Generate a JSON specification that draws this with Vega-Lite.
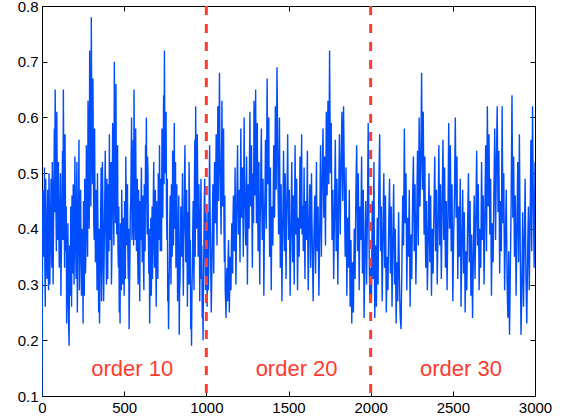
{
  "$schema": "https://vega.github.io/schema/vega-lite/v6.json",
  "width": 493,
  "height": 390,
  "autosize": {"type": "none"},
  "padding": {"left": 42, "top": 6, "right": 31, "bottom": 24},
  "background": "white",
  "config": {
    "view": {"stroke": "black", "strokeWidth": 1},
    "axis": {
      "domain": false,
      "grid": false,
      "title": null,
      "labelFont": "Liberation Sans",
      "labelFontSize": 15,
      "labelColor": "black",
      "tickColor": "black",
      "tickSize": -5,
      "labelFlush": false,
      "labelOverlap": false
    }
  },
  "datasets": {
    "series": [
      {"x":0,"y":0.10},{"x":5,"y":0.47},{"x":10,"y":0.35},{"x":15,"y":0.51},{"x":20,"y":0.26},{"x":25,"y":0.42},{"x":30,"y":0.31},{"x":35,"y":0.47},{"x":40,"y":0.29},{"x":45,"y":0.43},
      {"x":50,"y":0.36},{"x":55,"y":0.49},{"x":60,"y":0.33},{"x":65,"y":0.46},{"x":70,"y":0.40},{"x":75,"y":0.58},{"x":80,"y":0.65},{"x":85,"y":0.44},{"x":90,"y":0.61},{"x":95,"y":0.38},
      {"x":100,"y":0.52},{"x":105,"y":0.33},{"x":110,"y":0.45},{"x":115,"y":0.28},{"x":120,"y":0.41},{"x":125,"y":0.54},{"x":130,"y":0.65},{"x":135,"y":0.42},{"x":140,"y":0.57},{"x":145,"y":0.36},
      {"x":150,"y":0.23},{"x":155,"y":0.34},{"x":160,"y":0.27},{"x":165,"y":0.19},{"x":170,"y":0.31},{"x":175,"y":0.44},{"x":180,"y":0.26},{"x":185,"y":0.39},{"x":190,"y":0.48},{"x":195,"y":0.30},
      {"x":200,"y":0.53},{"x":205,"y":0.37},{"x":210,"y":0.45},{"x":215,"y":0.25},{"x":220,"y":0.41},{"x":225,"y":0.56},{"x":230,"y":0.35},{"x":235,"y":0.47},{"x":240,"y":0.28},{"x":245,"y":0.38},
      {"x":250,"y":0.23},{"x":255,"y":0.36},{"x":260,"y":0.49},{"x":265,"y":0.32},{"x":270,"y":0.55},{"x":275,"y":0.43},{"x":280,"y":0.63},{"x":285,"y":0.46},{"x":290,"y":0.72},{"x":295,"y":0.50},
      {"x":300,"y":0.78},{"x":305,"y":0.55},{"x":310,"y":0.67},{"x":315,"y":0.41},{"x":320,"y":0.58},{"x":325,"y":0.34},{"x":330,"y":0.47},{"x":335,"y":0.29},{"x":340,"y":0.42},{"x":345,"y":0.25},
      {"x":350,"y":0.23},{"x":355,"y":0.37},{"x":360,"y":0.51},{"x":365,"y":0.33},{"x":370,"y":0.46},{"x":375,"y":0.27},{"x":380,"y":0.40},{"x":385,"y":0.54},{"x":390,"y":0.36},{"x":395,"y":0.49},
      {"x":400,"y":0.31},{"x":405,"y":0.44},{"x":410,"y":0.57},{"x":415,"y":0.38},{"x":420,"y":0.52},{"x":425,"y":0.35},{"x":430,"y":0.59},{"x":435,"y":0.44},{"x":440,"y":0.70},{"x":445,"y":0.48},
      {"x":450,"y":0.66},{"x":455,"y":0.39},{"x":460,"y":0.55},{"x":465,"y":0.33},{"x":470,"y":0.25},{"x":475,"y":0.23},{"x":480,"y":0.36},{"x":485,"y":0.47},{"x":490,"y":0.30},{"x":495,"y":0.42},
      {"x":500,"y":0.28},{"x":505,"y":0.39},{"x":510,"y":0.53},{"x":515,"y":0.37},{"x":520,"y":0.48},{"x":525,"y":0.31},{"x":530,"y":0.22},{"x":535,"y":0.35},{"x":540,"y":0.45},{"x":545,"y":0.60},
      {"x":550,"y":0.41},{"x":555,"y":0.56},{"x":560,"y":0.65},{"x":565,"y":0.44},{"x":570,"y":0.58},{"x":575,"y":0.36},{"x":580,"y":0.49},{"x":585,"y":0.30},{"x":590,"y":0.43},{"x":595,"y":0.27},
      {"x":600,"y":0.38},{"x":605,"y":0.51},{"x":610,"y":0.34},{"x":615,"y":0.46},{"x":620,"y":0.29},{"x":625,"y":0.41},{"x":630,"y":0.55},{"x":635,"y":0.60},{"x":640,"y":0.39},{"x":645,"y":0.50},
      {"x":650,"y":0.32},{"x":655,"y":0.23},{"x":660,"y":0.35},{"x":665,"y":0.28},{"x":670,"y":0.44},{"x":675,"y":0.37},{"x":680,"y":0.52},{"x":685,"y":0.33},{"x":690,"y":0.47},{"x":695,"y":0.26},
      {"x":700,"y":0.40},{"x":705,"y":0.31},{"x":710,"y":0.45},{"x":715,"y":0.55},{"x":720,"y":0.36},{"x":725,"y":0.49},{"x":730,"y":0.58},{"x":735,"y":0.42},{"x":740,"y":0.64},{"x":745,"y":0.72},
      {"x":750,"y":0.50},{"x":755,"y":0.61},{"x":760,"y":0.38},{"x":765,"y":0.27},{"x":770,"y":0.22},{"x":775,"y":0.34},{"x":780,"y":0.46},{"x":785,"y":0.30},{"x":790,"y":0.42},{"x":795,"y":0.54},
      {"x":800,"y":0.37},{"x":805,"y":0.59},{"x":810,"y":0.46},{"x":815,"y":0.33},{"x":820,"y":0.48},{"x":825,"y":0.27},{"x":830,"y":0.39},{"x":835,"y":0.21},{"x":840,"y":0.31},{"x":845,"y":0.44},
      {"x":850,"y":0.35},{"x":855,"y":0.50},{"x":860,"y":0.28},{"x":865,"y":0.41},{"x":870,"y":0.55},{"x":875,"y":0.34},{"x":880,"y":0.47},{"x":885,"y":0.26},{"x":890,"y":0.38},{"x":895,"y":0.52},
      {"x":900,"y":0.30},{"x":905,"y":0.22},{"x":910,"y":0.19},{"x":915,"y":0.33},{"x":920,"y":0.45},{"x":925,"y":0.29},{"x":930,"y":0.56},{"x":935,"y":0.62},{"x":940,"y":0.40},{"x":945,"y":0.57},
      {"x":950,"y":0.35},{"x":955,"y":0.48},{"x":960,"y":0.27},{"x":965,"y":0.43},{"x":970,"y":0.31},{"x":975,"y":0.24},{"x":980,"y":0.20},{"x":985,"y":0.36},{"x":990,"y":0.49},{"x":995,"y":0.29},
      {"x":1000,"y":0.40},{"x":1005,"y":0.26},{"x":1010,"y":0.43},{"x":1015,"y":0.33},{"x":1020,"y":0.55},{"x":1025,"y":0.38},{"x":1030,"y":0.25},{"x":1035,"y":0.36},{"x":1040,"y":0.48},{"x":1045,"y":0.32},
      {"x":1050,"y":0.52},{"x":1055,"y":0.41},{"x":1060,"y":0.57},{"x":1065,"y":0.37},{"x":1070,"y":0.62},{"x":1075,"y":0.45},{"x":1080,"y":0.68},{"x":1085,"y":0.50},{"x":1090,"y":0.39},{"x":1095,"y":0.63},
      {"x":1100,"y":0.44},{"x":1105,"y":0.58},{"x":1110,"y":0.34},{"x":1115,"y":0.29},{"x":1120,"y":0.24},{"x":1125,"y":0.33},{"x":1130,"y":0.27},{"x":1135,"y":0.38},{"x":1140,"y":0.25},{"x":1145,"y":0.35},
      {"x":1150,"y":0.29},{"x":1155,"y":0.41},{"x":1160,"y":0.32},{"x":1165,"y":0.46},{"x":1170,"y":0.36},{"x":1175,"y":0.51},{"x":1180,"y":0.30},{"x":1185,"y":0.44},{"x":1190,"y":0.55},{"x":1195,"y":0.39},
      {"x":1200,"y":0.47},{"x":1205,"y":0.34},{"x":1210,"y":0.58},{"x":1215,"y":0.42},{"x":1220,"y":0.51},{"x":1225,"y":0.35},{"x":1230,"y":0.60},{"x":1235,"y":0.45},{"x":1240,"y":0.37},{"x":1245,"y":0.53},
      {"x":1250,"y":0.30},{"x":1255,"y":0.48},{"x":1260,"y":0.40},{"x":1265,"y":0.61},{"x":1270,"y":0.44},{"x":1275,"y":0.55},{"x":1280,"y":0.33},{"x":1285,"y":0.50},{"x":1290,"y":0.63},{"x":1295,"y":0.46},
      {"x":1300,"y":0.65},{"x":1305,"y":0.41},{"x":1310,"y":0.59},{"x":1315,"y":0.36},{"x":1320,"y":0.52},{"x":1325,"y":0.30},{"x":1330,"y":0.45},{"x":1335,"y":0.58},{"x":1340,"y":0.38},{"x":1345,"y":0.49},
      {"x":1350,"y":0.28},{"x":1355,"y":0.43},{"x":1360,"y":0.56},{"x":1365,"y":0.40},{"x":1370,"y":0.67},{"x":1375,"y":0.48},{"x":1380,"y":0.60},{"x":1385,"y":0.35},{"x":1390,"y":0.51},{"x":1395,"y":0.29},
      {"x":1400,"y":0.44},{"x":1405,"y":0.37},{"x":1410,"y":0.55},{"x":1415,"y":0.42},{"x":1420,"y":0.62},{"x":1425,"y":0.47},{"x":1430,"y":0.69},{"x":1435,"y":0.52},{"x":1440,"y":0.39},{"x":1445,"y":0.60},
      {"x":1450,"y":0.33},{"x":1455,"y":0.48},{"x":1460,"y":0.27},{"x":1465,"y":0.41},{"x":1470,"y":0.54},{"x":1475,"y":0.36},{"x":1480,"y":0.50},{"x":1485,"y":0.31},{"x":1490,"y":0.45},{"x":1495,"y":0.57},
      {"x":1500,"y":0.38},{"x":1505,"y":0.47},{"x":1510,"y":0.28},{"x":1515,"y":0.40},{"x":1520,"y":0.52},{"x":1525,"y":0.34},{"x":1530,"y":0.46},{"x":1535,"y":0.30},{"x":1540,"y":0.55},{"x":1545,"y":0.39},
      {"x":1550,"y":0.49},{"x":1555,"y":0.29},{"x":1560,"y":0.42},{"x":1565,"y":0.35},{"x":1570,"y":0.53},{"x":1575,"y":0.40},{"x":1580,"y":0.57},{"x":1585,"y":0.44},{"x":1590,"y":0.36},{"x":1595,"y":0.51},
      {"x":1600,"y":0.31},{"x":1605,"y":0.45},{"x":1610,"y":0.38},{"x":1615,"y":0.54},{"x":1620,"y":0.29},{"x":1625,"y":0.41},{"x":1630,"y":0.48},{"x":1635,"y":0.33},{"x":1640,"y":0.50},{"x":1645,"y":0.37},
      {"x":1650,"y":0.27},{"x":1655,"y":0.39},{"x":1660,"y":0.46},{"x":1665,"y":0.32},{"x":1670,"y":0.52},{"x":1675,"y":0.36},{"x":1680,"y":0.44},{"x":1685,"y":0.28},{"x":1690,"y":0.40},{"x":1695,"y":0.55},
      {"x":1700,"y":0.35},{"x":1705,"y":0.49},{"x":1710,"y":0.58},{"x":1715,"y":0.42},{"x":1720,"y":0.53},{"x":1725,"y":0.37},{"x":1730,"y":0.61},{"x":1735,"y":0.46},{"x":1740,"y":0.63},{"x":1745,"y":0.48},
      {"x":1750,"y":0.72},{"x":1755,"y":0.50},{"x":1760,"y":0.59},{"x":1765,"y":0.38},{"x":1770,"y":0.47},{"x":1775,"y":0.31},{"x":1780,"y":0.43},{"x":1785,"y":0.56},{"x":1790,"y":0.36},{"x":1795,"y":0.49},
      {"x":1800,"y":0.30},{"x":1805,"y":0.44},{"x":1810,"y":0.57},{"x":1815,"y":0.39},{"x":1820,"y":0.52},{"x":1825,"y":0.61},{"x":1830,"y":0.45},{"x":1835,"y":0.62},{"x":1840,"y":0.48},{"x":1845,"y":0.35},
      {"x":1850,"y":0.51},{"x":1855,"y":0.28},{"x":1860,"y":0.42},{"x":1865,"y":0.33},{"x":1870,"y":0.47},{"x":1875,"y":0.26},{"x":1880,"y":0.38},{"x":1885,"y":0.23},{"x":1890,"y":0.34},{"x":1895,"y":0.25},
      {"x":1900,"y":0.40},{"x":1905,"y":0.31},{"x":1910,"y":0.46},{"x":1915,"y":0.55},{"x":1920,"y":0.36},{"x":1925,"y":0.50},{"x":1930,"y":0.29},{"x":1935,"y":0.44},{"x":1940,"y":0.38},{"x":1945,"y":0.53},
      {"x":1950,"y":0.32},{"x":1955,"y":0.47},{"x":1960,"y":0.24},{"x":1965,"y":0.36},{"x":1970,"y":0.45},{"x":1975,"y":0.30},{"x":1980,"y":0.42},{"x":1985,"y":0.59},{"x":1990,"y":0.38},{"x":1995,"y":0.27},
      {"x":2000,"y":0.33},{"x":2005,"y":0.28},{"x":2010,"y":0.45},{"x":2015,"y":0.31},{"x":2020,"y":0.52},{"x":2025,"y":0.24},{"x":2030,"y":0.37},{"x":2035,"y":0.26},{"x":2040,"y":0.42},{"x":2045,"y":0.30},
      {"x":2050,"y":0.48},{"x":2055,"y":0.57},{"x":2060,"y":0.36},{"x":2065,"y":0.44},{"x":2070,"y":0.27},{"x":2075,"y":0.39},{"x":2080,"y":0.50},{"x":2085,"y":0.33},{"x":2090,"y":0.46},{"x":2095,"y":0.25},
      {"x":2100,"y":0.35},{"x":2105,"y":0.29},{"x":2110,"y":0.41},{"x":2115,"y":0.49},{"x":2120,"y":0.32},{"x":2125,"y":0.44},{"x":2130,"y":0.26},{"x":2135,"y":0.38},{"x":2140,"y":0.48},{"x":2145,"y":0.30},
      {"x":2150,"y":0.40},{"x":2155,"y":0.23},{"x":2160,"y":0.34},{"x":2165,"y":0.27},{"x":2170,"y":0.43},{"x":2175,"y":0.31},{"x":2180,"y":0.24},{"x":2185,"y":0.22},{"x":2190,"y":0.33},{"x":2195,"y":0.46},
      {"x":2200,"y":0.37},{"x":2205,"y":0.58},{"x":2210,"y":0.41},{"x":2215,"y":0.50},{"x":2220,"y":0.29},{"x":2225,"y":0.42},{"x":2230,"y":0.35},{"x":2235,"y":0.47},{"x":2240,"y":0.26},{"x":2245,"y":0.39},
      {"x":2250,"y":0.31},{"x":2255,"y":0.45},{"x":2260,"y":0.53},{"x":2265,"y":0.36},{"x":2270,"y":0.48},{"x":2275,"y":0.30},{"x":2280,"y":0.41},{"x":2285,"y":0.54},{"x":2290,"y":0.37},{"x":2295,"y":0.60},
      {"x":2300,"y":0.44},{"x":2305,"y":0.52},{"x":2310,"y":0.68},{"x":2315,"y":0.47},{"x":2320,"y":0.61},{"x":2325,"y":0.39},{"x":2330,"y":0.53},{"x":2335,"y":0.33},{"x":2340,"y":0.45},{"x":2345,"y":0.29},
      {"x":2350,"y":0.38},{"x":2355,"y":0.50},{"x":2360,"y":0.34},{"x":2365,"y":0.46},{"x":2370,"y":0.28},{"x":2375,"y":0.40},{"x":2380,"y":0.32},{"x":2385,"y":0.43},{"x":2390,"y":0.53},{"x":2395,"y":0.36},
      {"x":2400,"y":0.47},{"x":2405,"y":0.30},{"x":2410,"y":0.41},{"x":2415,"y":0.55},{"x":2420,"y":0.37},{"x":2425,"y":0.48},{"x":2430,"y":0.31},{"x":2435,"y":0.44},{"x":2440,"y":0.56},{"x":2445,"y":0.38},
      {"x":2450,"y":0.51},{"x":2455,"y":0.33},{"x":2460,"y":0.45},{"x":2465,"y":0.29},{"x":2470,"y":0.42},{"x":2475,"y":0.59},{"x":2480,"y":0.40},{"x":2485,"y":0.55},{"x":2490,"y":0.36},{"x":2495,"y":0.48},
      {"x":2500,"y":0.27},{"x":2505,"y":0.39},{"x":2510,"y":0.46},{"x":2515,"y":0.60},{"x":2520,"y":0.42},{"x":2525,"y":0.53},{"x":2530,"y":0.31},{"x":2535,"y":0.44},{"x":2540,"y":0.35},{"x":2545,"y":0.49},
      {"x":2550,"y":0.26},{"x":2555,"y":0.38},{"x":2560,"y":0.47},{"x":2565,"y":0.32},{"x":2570,"y":0.43},{"x":2575,"y":0.25},{"x":2580,"y":0.36},{"x":2585,"y":0.29},{"x":2590,"y":0.41},{"x":2595,"y":0.50},
      {"x":2600,"y":0.34},{"x":2605,"y":0.45},{"x":2610,"y":0.28},{"x":2615,"y":0.39},{"x":2620,"y":0.24},{"x":2625,"y":0.35},{"x":2630,"y":0.46},{"x":2635,"y":0.31},{"x":2640,"y":0.42},{"x":2645,"y":0.54},
      {"x":2650,"y":0.37},{"x":2655,"y":0.48},{"x":2660,"y":0.29},{"x":2665,"y":0.40},{"x":2670,"y":0.33},{"x":2675,"y":0.52},{"x":2680,"y":0.38},{"x":2685,"y":0.46},{"x":2690,"y":0.30},{"x":2695,"y":0.43},
      {"x":2700,"y":0.55},{"x":2705,"y":0.36},{"x":2710,"y":0.62},{"x":2715,"y":0.44},{"x":2720,"y":0.57},{"x":2725,"y":0.39},{"x":2730,"y":0.49},{"x":2735,"y":0.28},{"x":2740,"y":0.41},{"x":2745,"y":0.34},
      {"x":2750,"y":0.47},{"x":2755,"y":0.58},{"x":2760,"y":0.38},{"x":2765,"y":0.52},{"x":2770,"y":0.62},{"x":2775,"y":0.43},{"x":2780,"y":0.54},{"x":2785,"y":0.32},{"x":2790,"y":0.45},{"x":2795,"y":0.36},
      {"x":2800,"y":0.62},{"x":2805,"y":0.41},{"x":2810,"y":0.50},{"x":2815,"y":0.29},{"x":2820,"y":0.39},{"x":2825,"y":0.47},{"x":2830,"y":0.31},{"x":2835,"y":0.24},{"x":2840,"y":0.36},{"x":2845,"y":0.21},
      {"x":2850,"y":0.33},{"x":2855,"y":0.45},{"x":2860,"y":0.64},{"x":2865,"y":0.42},{"x":2870,"y":0.53},{"x":2875,"y":0.35},{"x":2880,"y":0.46},{"x":2885,"y":0.28},{"x":2890,"y":0.40},{"x":2895,"y":0.52},
      {"x":2900,"y":0.34},{"x":2905,"y":0.57},{"x":2910,"y":0.37},{"x":2915,"y":0.21},{"x":2920,"y":0.30},{"x":2925,"y":0.43},{"x":2930,"y":0.26},{"x":2935,"y":0.38},{"x":2940,"y":0.49},{"x":2945,"y":0.31},
      {"x":2950,"y":0.23},{"x":2955,"y":0.35},{"x":2960,"y":0.44},{"x":2965,"y":0.29},{"x":2970,"y":0.41},{"x":2975,"y":0.56},{"x":2980,"y":0.36},{"x":2985,"y":0.62},{"x":2990,"y":0.45},{"x":2995,"y":0.33},
      {"x":3000,"y":0.52},
      {"x":2.5,"y":0.32},{"x":7.5,"y":0.44},{"x":12.5,"y":0.38},{"x":17.5,"y":0.33},{"x":22.5,"y":0.49},{"x":27.5,"y":0.36},{"x":32.5,"y":0.40},{"x":37.5,"y":0.35},{"x":42.5,"y":0.50},{"x":47.5,"y":0.30},
      {"x":52.5,"y":0.42},{"x":57.5,"y":0.38},{"x":62.5,"y":0.52},{"x":67.5,"y":0.30},{"x":72.5,"y":0.47},{"x":77.5,"y":0.43},{"x":82.5,"y":0.55},{"x":87.5,"y":0.36},{"x":92.5,"y":0.49},{"x":97.5,"y":0.45},
      {"x":102.5,"y":0.40},{"x":107.5,"y":0.37},{"x":112.5,"y":0.50},{"x":117.5,"y":0.35},{"x":122.5,"y":0.47},{"x":127.5,"y":0.38},{"x":132.5,"y":0.51},{"x":137.5,"y":0.33},{"x":142.5,"y":0.46},{"x":147.5,"y":0.44},
      {"x":152.5,"y":0.29},{"x":157.5,"y":0.41},{"x":162.5,"y":0.22},{"x":167.5,"y":0.37},{"x":172.5,"y":0.28},{"x":177.5,"y":0.35},{"x":182.5,"y":0.46},{"x":187.5,"y":0.32},{"x":192.5,"y":0.42},{"x":197.5,"y":0.38},
      {"x":202.5,"y":0.43},{"x":207.5,"y":0.31},{"x":212.5,"y":0.52},{"x":217.5,"y":0.34},{"x":222.5,"y":0.46},{"x":227.5,"y":0.29},{"x":232.5,"y":0.44},{"x":237.5,"y":0.37},{"x":242.5,"y":0.40},{"x":247.5,"y":0.33},
      {"x":252.5,"y":0.45},{"x":257.5,"y":0.28},{"x":262.5,"y":0.41},{"x":267.5,"y":0.37},{"x":272.5,"y":0.48},{"x":277.5,"y":0.35},{"x":282.5,"y":0.53},{"x":287.5,"y":0.40},{"x":292.5,"y":0.58},{"x":297.5,"y":0.44},
      {"x":302.5,"y":0.62},{"x":307.5,"y":0.48},{"x":312.5,"y":0.52},{"x":317.5,"y":0.38},{"x":322.5,"y":0.45},{"x":327.5,"y":0.41},{"x":332.5,"y":0.37},{"x":337.5,"y":0.50},{"x":342.5,"y":0.33},{"x":347.5,"y":0.40},
      {"x":352.5,"y":0.30},{"x":357.5,"y":0.44},{"x":362.5,"y":0.27},{"x":367.5,"y":0.52},{"x":372.5,"y":0.38},{"x":377.5,"y":0.33},{"x":382.5,"y":0.47},{"x":387.5,"y":0.43},{"x":392.5,"y":0.30},{"x":397.5,"y":0.39},
      {"x":402.5,"y":0.48},{"x":407.5,"y":0.36},{"x":412.5,"y":0.43},{"x":417.5,"y":0.49},{"x":422.5,"y":0.30},{"x":427.5,"y":0.45},{"x":432.5,"y":0.52},{"x":437.5,"y":0.37},{"x":442.5,"y":0.55},{"x":447.5,"y":0.41},
      {"x":452.5,"y":0.47},{"x":457.5,"y":0.50},{"x":462.5,"y":0.36},{"x":467.5,"y":0.44},{"x":472.5,"y":0.30},{"x":477.5,"y":0.41},{"x":482.5,"y":0.29},{"x":487.5,"y":0.40},{"x":492.5,"y":0.37},{"x":497.5,"y":0.33},
      {"x":502.5,"y":0.45},{"x":507.5,"y":0.31},{"x":512.5,"y":0.44},{"x":517.5,"y":0.42},{"x":522.5,"y":0.36},{"x":527.5,"y":0.40},{"x":532.5,"y":0.29},{"x":537.5,"y":0.43},{"x":542.5,"y":0.52},{"x":547.5,"y":0.38},
      {"x":552.5,"y":0.50},{"x":557.5,"y":0.37},{"x":562.5,"y":0.52},{"x":567.5,"y":0.38},{"x":572.5,"y":0.46},{"x":577.5,"y":0.42},{"x":582.5,"y":0.35},{"x":587.5,"y":0.47},{"x":592.5,"y":0.34},{"x":597.5,"y":0.45},
      {"x":602.5,"y":0.44},{"x":607.5,"y":0.40},{"x":612.5,"y":0.39},{"x":617.5,"y":0.33},{"x":622.5,"y":0.48},{"x":627.5,"y":0.36},{"x":632.5,"y":0.47},{"x":637.5,"y":0.45},{"x":642.5,"y":0.53},{"x":647.5,"y":0.38},
      {"x":652.5,"y":0.40},{"x":657.5,"y":0.30},{"x":662.5,"y":0.42},{"x":667.5,"y":0.34},{"x":672.5,"y":0.31},{"x":677.5,"y":0.46},{"x":682.5,"y":0.40},{"x":687.5,"y":0.38},{"x":692.5,"y":0.34},{"x":697.5,"y":0.45},
      {"x":702.5,"y":0.36},{"x":707.5,"y":0.50},{"x":712.5,"y":0.38},{"x":717.5,"y":0.44},{"x":722.5,"y":0.43},{"x":727.5,"y":0.36},{"x":732.5,"y":0.47},{"x":737.5,"y":0.52},{"x":742.5,"y":0.48},{"x":747.5,"y":0.56},
      {"x":752.5,"y":0.59},{"x":757.5,"y":0.44},{"x":762.5,"y":0.49},{"x":767.5,"y":0.32},{"x":772.5,"y":0.29},{"x":777.5,"y":0.41},{"x":782.5,"y":0.37},{"x":787.5,"y":0.48},{"x":792.5,"y":0.35},{"x":797.5,"y":0.44},
      {"x":802.5,"y":0.47},{"x":807.5,"y":0.40},{"x":812.5,"y":0.52},{"x":817.5,"y":0.38},{"x":822.5,"y":0.42},{"x":827.5,"y":0.34},{"x":832.5,"y":0.46},{"x":837.5,"y":0.29},{"x":842.5,"y":0.38},{"x":847.5,"y":0.40},
      {"x":852.5,"y":0.43},{"x":857.5,"y":0.36},{"x":862.5,"y":0.38},{"x":867.5,"y":0.50},{"x":872.5,"y":0.41},{"x":877.5,"y":0.44},{"x":882.5,"y":0.36},{"x":887.5,"y":0.43},{"x":892.5,"y":0.30},{"x":897.5,"y":0.45},
      {"x":902.5,"y":0.38},{"x":907.5,"y":0.27},{"x":912.5,"y":0.29},{"x":917.5,"y":0.40},{"x":922.5,"y":0.37},{"x":927.5,"y":0.48},{"x":932.5,"y":0.35},{"x":937.5,"y":0.50},{"x":942.5,"y":0.45},{"x":947.5,"y":0.48},
      {"x":952.5,"y":0.42},{"x":957.5,"y":0.39},{"x":962.5,"y":0.36},{"x":967.5,"y":0.49},{"x":972.5,"y":0.37},{"x":977.5,"y":0.29},{"x":982.5,"y":0.31},{"x":987.5,"y":0.45},{"x":992.5,"y":0.38},{"x":997.5,"y":0.43},
      {"x":1002.5,"y":0.35},{"x":1007.5,"y":0.38},{"x":1012.5,"y":0.29},{"x":1017.5,"y":0.47},{"x":1022.5,"y":0.44},{"x":1027.5,"y":0.31},{"x":1032.5,"y":0.30},{"x":1037.5,"y":0.43},{"x":1042.5,"y":0.39},{"x":1047.5,"y":0.45},
      {"x":1052.5,"y":0.46},{"x":1057.5,"y":0.49},{"x":1062.5,"y":0.43},{"x":1067.5,"y":0.51},{"x":1072.5,"y":0.48},{"x":1077.5,"y":0.57},{"x":1082.5,"y":0.55},{"x":1087.5,"y":0.44},{"x":1092.5,"y":0.52},{"x":1097.5,"y":0.50},
      {"x":1102.5,"y":0.52},{"x":1107.5,"y":0.40},{"x":1112.5,"y":0.46},{"x":1117.5,"y":0.27},{"x":1122.5,"y":0.30},{"x":1127.5,"y":0.29},{"x":1132.5,"y":0.35},{"x":1137.5,"y":0.31},{"x":1142.5,"y":0.30},{"x":1147.5,"y":0.33},
      {"x":1152.5,"y":0.37},{"x":1157.5,"y":0.35},{"x":1162.5,"y":0.42},{"x":1167.5,"y":0.39},{"x":1172.5,"y":0.42},{"x":1177.5,"y":0.40},{"x":1182.5,"y":0.37},{"x":1187.5,"y":0.49},{"x":1192.5,"y":0.46},{"x":1197.5,"y":0.43},
      {"x":1202.5,"y":0.40},{"x":1207.5,"y":0.48},{"x":1212.5,"y":0.47},{"x":1217.5,"y":0.49},{"x":1222.5,"y":0.43},{"x":1227.5,"y":0.47},{"x":1232.5,"y":0.50},{"x":1237.5,"y":0.40},{"x":1242.5,"y":0.46},{"x":1247.5,"y":0.42},
      {"x":1252.5,"y":0.41},{"x":1257.5,"y":0.43},{"x":1262.5,"y":0.52},{"x":1267.5,"y":0.50},{"x":1272.5,"y":0.48},{"x":1277.5,"y":0.42},{"x":1282.5,"y":0.45},{"x":1287.5,"y":0.41},{"x":1292.5,"y":0.56},{"x":1297.5,"y":0.53},
      {"x":1302.5,"y":0.50},{"x":1307.5,"y":0.52},{"x":1312.5,"y":0.45},{"x":1317.5,"y":0.44},{"x":1322.5,"y":0.38},{"x":1327.5,"y":0.41},{"x":1332.5,"y":0.53},{"x":1337.5,"y":0.46},{"x":1342.5,"y":0.43},{"x":1347.5,"y":0.40},
      {"x":1352.5,"y":0.37},{"x":1357.5,"y":0.48},{"x":1362.5,"y":0.47},{"x":1367.5,"y":0.55},{"x":1372.5,"y":0.56},{"x":1377.5,"y":0.53},{"x":1382.5,"y":0.45},{"x":1387.5,"y":0.44},{"x":1392.5,"y":0.38},{"x":1397.5,"y":0.40},
      {"x":1402.5,"y":0.42},{"x":1407.5,"y":0.47},{"x":1412.5,"y":0.46},{"x":1417.5,"y":0.50},{"x":1422.5,"y":0.51},{"x":1427.5,"y":0.58},{"x":1432.5,"y":0.61},{"x":1437.5,"y":0.45},{"x":1442.5,"y":0.49},{"x":1447.5,"y":0.46},
      {"x":1452.5,"y":0.40},{"x":1457.5,"y":0.36},{"x":1462.5,"y":0.35},{"x":1467.5,"y":0.47},{"x":1472.5,"y":0.43},{"x":1477.5,"y":0.44},{"x":1482.5,"y":0.39},{"x":1487.5,"y":0.40},{"x":1492.5,"y":0.50},{"x":1497.5,"y":0.46},
      {"x":1502.5,"y":0.43},{"x":1507.5,"y":0.36},{"x":1512.5,"y":0.35},{"x":1517.5,"y":0.46},{"x":1522.5,"y":0.42},{"x":1527.5,"y":0.40},{"x":1532.5,"y":0.37},{"x":1537.5,"y":0.44},{"x":1542.5,"y":0.46},{"x":1547.5,"y":0.43},
      {"x":1552.5,"y":0.38},{"x":1557.5,"y":0.36},{"x":1562.5,"y":0.39},{"x":1567.5,"y":0.45},{"x":1572.5,"y":0.47},{"x":1577.5,"y":0.50},{"x":1582.5,"y":0.39},{"x":1587.5,"y":0.44},{"x":1592.5,"y":0.42},{"x":1597.5,"y":0.40},
      {"x":1602.5,"y":0.39},{"x":1607.5,"y":0.42},{"x":1612.5,"y":0.47},{"x":1617.5,"y":0.37},{"x":1622.5,"y":0.34},{"x":1627.5,"y":0.45},{"x":1632.5,"y":0.41},{"x":1637.5,"y":0.43},{"x":1642.5,"y":0.42},{"x":1647.5,"y":0.32},
      {"x":1652.5,"y":0.34},{"x":1657.5,"y":0.43},{"x":1662.5,"y":0.38},{"x":1667.5,"y":0.44},{"x":1672.5,"y":0.42},{"x":1677.5,"y":0.41},{"x":1682.5,"y":0.35},{"x":1687.5,"y":0.34},{"x":1692.5,"y":0.48},{"x":1697.5,"y":0.43},
      {"x":1702.5,"y":0.43},{"x":1707.5,"y":0.54},{"x":1712.5,"y":0.49},{"x":1717.5,"y":0.48},{"x":1722.5,"y":0.44},{"x":1727.5,"y":0.50},{"x":1732.5,"y":0.55},{"x":1737.5,"y":0.53},{"x":1742.5,"y":0.56},{"x":1747.5,"y":0.59},
      {"x":1752.5,"y":0.61},{"x":1757.5,"y":0.55},{"x":1762.5,"y":0.48},{"x":1767.5,"y":0.42},{"x":1772.5,"y":0.39},{"x":1777.5,"y":0.37},{"x":1782.5,"y":0.50},{"x":1787.5,"y":0.45},{"x":1792.5,"y":0.42},{"x":1797.5,"y":0.40},
      {"x":1802.5,"y":0.37},{"x":1807.5,"y":0.51},{"x":1812.5,"y":0.47},{"x":1817.5,"y":0.46},{"x":1822.5,"y":0.56},{"x":1827.5,"y":0.52},{"x":1832.5,"y":0.54},{"x":1837.5,"y":0.55},{"x":1842.5,"y":0.41},{"x":1847.5,"y":0.43},
      {"x":1852.5,"y":0.39},{"x":1857.5,"y":0.35},{"x":1862.5,"y":0.38},{"x":1867.5,"y":0.40},{"x":1872.5,"y":0.36},{"x":1877.5,"y":0.32},{"x":1882.5,"y":0.30},{"x":1887.5,"y":0.29},{"x":1892.5,"y":0.30},{"x":1897.5,"y":0.33},
      {"x":1902.5,"y":0.36},{"x":1907.5,"y":0.39},{"x":1912.5,"y":0.51},{"x":1917.5,"y":0.45},{"x":1922.5,"y":0.43},{"x":1927.5,"y":0.39},{"x":1932.5,"y":0.37},{"x":1937.5,"y":0.41},{"x":1942.5,"y":0.46},{"x":1947.5,"y":0.42},
      {"x":1952.5,"y":0.40},{"x":1957.5,"y":0.35},{"x":1962.5,"y":0.30},{"x":1967.5,"y":0.41},{"x":1972.5,"y":0.38},{"x":1977.5,"y":0.36},{"x":1982.5,"y":0.50},{"x":1987.5,"y":0.48},{"x":1992.5,"y":0.32},{"x":1997.5,"y":0.30},
      {"x":2002.5,"y":0.30},{"x":2007.5,"y":0.37},{"x":2012.5,"y":0.38},{"x":2017.5,"y":0.42},{"x":2022.5,"y":0.36},{"x":2027.5,"y":0.31},{"x":2032.5,"y":0.32},{"x":2037.5,"y":0.35},{"x":2042.5,"y":0.36},{"x":2047.5,"y":0.39},
      {"x":2052.5,"y":0.53},{"x":2057.5,"y":0.46},{"x":2062.5,"y":0.40},{"x":2067.5,"y":0.35},{"x":2072.5,"y":0.33},{"x":2077.5,"y":0.45},{"x":2082.5,"y":0.41},{"x":2087.5,"y":0.40},{"x":2092.5,"y":0.35},{"x":2097.5,"y":0.30},
      {"x":2102.5,"y":0.32},{"x":2107.5,"y":0.35},{"x":2112.5,"y":0.45},{"x":2117.5,"y":0.40},{"x":2122.5,"y":0.38},{"x":2127.5,"y":0.35},{"x":2132.5,"y":0.32},{"x":2137.5,"y":0.43},{"x":2142.5,"y":0.39},{"x":2147.5,"y":0.35},
      {"x":2152.5,"y":0.31},{"x":2157.5,"y":0.28},{"x":2162.5,"y":0.30},{"x":2167.5,"y":0.36},{"x":2172.5,"y":0.37},{"x":2177.5,"y":0.27},{"x":2182.5,"y":0.23},{"x":2187.5,"y":0.28},{"x":2192.5,"y":0.40},{"x":2197.5,"y":0.42},
      {"x":2202.5,"y":0.48},{"x":2207.5,"y":0.49},{"x":2212.5,"y":0.46},{"x":2217.5,"y":0.39},{"x":2222.5,"y":0.36},{"x":2227.5,"y":0.38},{"x":2232.5,"y":0.41},{"x":2237.5,"y":0.36},{"x":2242.5,"y":0.33},{"x":2247.5,"y":0.35},
      {"x":2252.5,"y":0.38},{"x":2257.5,"y":0.49},{"x":2262.5,"y":0.44},{"x":2267.5,"y":0.42},{"x":2272.5,"y":0.39},{"x":2277.5,"y":0.35},{"x":2282.5,"y":0.48},{"x":2287.5,"y":0.45},{"x":2292.5,"y":0.49},{"x":2297.5,"y":0.52},
      {"x":2302.5,"y":0.48},{"x":2307.5,"y":0.60},{"x":2312.5,"y":0.57},{"x":2317.5,"y":0.54},{"x":2322.5,"y":0.50},{"x":2327.5,"y":0.43},{"x":2332.5,"y":0.39},{"x":2337.5,"y":0.39},{"x":2342.5,"y":0.37},{"x":2347.5,"y":0.33},
      {"x":2352.5,"y":0.44},{"x":2357.5,"y":0.42},{"x":2362.5,"y":0.40},{"x":2367.5,"y":0.37},{"x":2372.5,"y":0.34},{"x":2377.5,"y":0.36},{"x":2382.5,"y":0.38},{"x":2387.5,"y":0.48},{"x":2392.5,"y":0.45},{"x":2397.5,"y":0.42},
      {"x":2402.5,"y":0.38},{"x":2407.5,"y":0.35},{"x":2412.5,"y":0.48},{"x":2417.5,"y":0.46},{"x":2422.5,"y":0.42},{"x":2427.5,"y":0.39},{"x":2432.5,"y":0.38},{"x":2437.5,"y":0.50},{"x":2442.5,"y":0.47},{"x":2447.5,"y":0.44},
      {"x":2452.5,"y":0.42},{"x":2457.5,"y":0.39},{"x":2462.5,"y":0.37},{"x":2467.5,"y":0.36},{"x":2472.5,"y":0.50},{"x":2477.5,"y":0.49},{"x":2482.5,"y":0.48},{"x":2487.5,"y":0.45},{"x":2492.5,"y":0.42},{"x":2497.5,"y":0.37},
      {"x":2502.5,"y":0.33},{"x":2507.5,"y":0.42},{"x":2512.5,"y":0.53},{"x":2517.5,"y":0.51},{"x":2522.5,"y":0.48},{"x":2527.5,"y":0.42},{"x":2532.5,"y":0.37},{"x":2537.5,"y":0.39},{"x":2542.5,"y":0.42},{"x":2547.5,"y":0.37},
      {"x":2552.5,"y":0.32},{"x":2557.5,"y":0.43},{"x":2562.5,"y":0.39},{"x":2567.5,"y":0.38},{"x":2572.5,"y":0.34},{"x":2577.5,"y":0.31},{"x":2582.5,"y":0.33},{"x":2587.5,"y":0.35},{"x":2592.5,"y":0.45},{"x":2597.5,"y":0.42},
      {"x":2602.5,"y":0.40},{"x":2607.5,"y":0.36},{"x":2612.5,"y":0.33},{"x":2617.5,"y":0.31},{"x":2622.5,"y":0.30},{"x":2627.5,"y":0.40},{"x":2632.5,"y":0.38},{"x":2637.5,"y":0.36},{"x":2642.5,"y":0.48},{"x":2647.5,"y":0.45},
      {"x":2652.5,"y":0.42},{"x":2657.5,"y":0.38},{"x":2662.5,"y":0.34},{"x":2667.5,"y":0.36},{"x":2672.5,"y":0.43},{"x":2677.5,"y":0.45},{"x":2682.5,"y":0.42},{"x":2687.5,"y":0.38},{"x":2692.5,"y":0.36},{"x":2697.5,"y":0.49},
      {"x":2702.5,"y":0.45},{"x":2707.5,"y":0.49},{"x":2712.5,"y":0.53},{"x":2717.5,"y":0.50},{"x":2722.5,"y":0.48},{"x":2727.5,"y":0.44},{"x":2732.5,"y":0.38},{"x":2737.5,"y":0.35},{"x":2742.5,"y":0.37},{"x":2747.5,"y":0.40},
      {"x":2752.5,"y":0.52},{"x":2757.5,"y":0.48},{"x":2762.5,"y":0.45},{"x":2767.5,"y":0.57},{"x":2772.5,"y":0.52},{"x":2777.5,"y":0.48},{"x":2782.5,"y":0.43},{"x":2787.5,"y":0.38},{"x":2792.5,"y":0.41},{"x":2797.5,"y":0.49},
      {"x":2802.5,"y":0.51},{"x":2807.5,"y":0.45},{"x":2812.5,"y":0.39},{"x":2817.5,"y":0.34},{"x":2822.5,"y":0.43},{"x":2827.5,"y":0.39},{"x":2832.5,"y":0.27},{"x":2837.5,"y":0.30},{"x":2842.5,"y":0.28},{"x":2847.5,"y":0.27},
      {"x":2852.5,"y":0.39},{"x":2857.5,"y":0.55},{"x":2862.5,"y":0.53},{"x":2867.5,"y":0.47},{"x":2872.5,"y":0.44},{"x":2877.5,"y":0.40},{"x":2882.5,"y":0.37},{"x":2887.5,"y":0.34},{"x":2892.5,"y":0.46},{"x":2897.5,"y":0.43},
      {"x":2902.5,"y":0.46},{"x":2907.5,"y":0.47},{"x":2912.5,"y":0.29},{"x":2917.5,"y":0.25},{"x":2922.5,"y":0.36},{"x":2927.5,"y":0.34},{"x":2932.5,"y":0.32},{"x":2937.5,"y":0.43},{"x":2942.5,"y":0.40},{"x":2947.5,"y":0.27},
      {"x":2952.5,"y":0.29},{"x":2957.5,"y":0.40},{"x":2962.5,"y":0.36},{"x":2967.5,"y":0.35},{"x":2972.5,"y":0.48},{"x":2977.5,"y":0.46},{"x":2982.5,"y":0.49},{"x":2987.5,"y":0.53},{"x":2992.5,"y":0.39},{"x":2997.5,"y":0.42}
    ],
    "splits": [{"x": 1000}, {"x": 2000}],
    "labels": [
      {"x": 300, "y": 0.136, "t": "order 10"},
      {"x": 1300, "y": 0.136, "t": "order 20"},
      {"x": 2300, "y": 0.136, "t": "order 30"}
    ]
  },
  "layer": [
    {
      "data": {"name": "series"},
      "mark": {"type": "line", "color": "#004cff", "strokeWidth": 1.4, "clip": true},
      "encoding": {
        "x": {"field": "x", "type": "quantitative", "scale": {"domain": [0, 3000], "nice": false, "zero": false},
              "axis": {"orient": "bottom", "values": [0, 500, 1000, 1500, 2000, 2500, 3000], "format": "d", "labelPadding": 9}},
        "y": {"field": "y", "type": "quantitative", "scale": {"domain": [0.1, 0.8], "nice": false, "zero": false},
              "axis": {"orient": "left", "values": [0.1, 0.2, 0.3, 0.4, 0.5, 0.6, 0.7, 0.8], "format": ".1f", "labelPadding": 9}}
      }
    },
    {
      "data": {"name": "splits"},
      "mark": {"type": "rule", "color": "#ff3b2f", "strokeWidth": 3, "strokeDash": [9, 9]},
      "encoding": {
        "x": {"field": "x", "type": "quantitative", "axis": null}
      }
    },
    {
      "data": {"name": "labels"},
      "mark": {"type": "text", "color": "#ff3b2f", "font": "Liberation Sans", "fontSize": 22, "align": "left", "baseline": "alphabetic"},
      "encoding": {
        "x": {"field": "x", "type": "quantitative",
              "axis": {"orient": "top", "values": [0, 500, 1000, 1500, 2000, 2500, 3000], "labels": false}},
        "y": {"field": "y", "type": "quantitative",
              "axis": {"orient": "right", "values": [0.1, 0.2, 0.3, 0.4, 0.5, 0.6, 0.7, 0.8], "labels": false}},
        "text": {"field": "t", "type": "nominal"}
      }
    }
  ],
  "resolve": {"axis": {"x": "independent", "y": "independent"}}
}
